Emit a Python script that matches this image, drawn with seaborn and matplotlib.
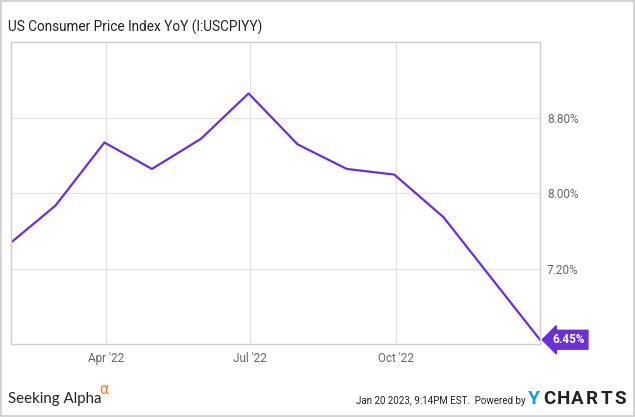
import matplotlib
matplotlib.use("Agg")
import matplotlib.pyplot as plt
from matplotlib.patches import Rectangle
import seaborn as sns
import pandas as pd

# CPI YoY, monthly values (plotted at month end like YCharts)
MONTHS = pd.date_range("2022-01-31", "2022-12-31", freq="ME")
CPI_YOY = [7.48, 7.87, 8.54, 8.26, 8.58, 9.06, 8.52, 8.26, 8.20, 7.75, 7.11, 6.45]
Y_TICKS = [7.20, 8.00, 8.80]
X_TICKS = pd.to_datetime(["2022-04-01", "2022-07-01", "2022-10-01"])
X_TICK_LABELS = ["Apr '22", "Jul '22", "Oct '22"]

LINE_COLOR = "#6B2FD6"
GRID_COLOR = "#e2e2e2"
SPINE_COLOR = "#cccccc"

sns.set_style("white")
plt.rcParams["font.family"] = ["Roboto", "DejaVu Sans"]

df = pd.DataFrame({"date": MONTHS, "value": CPI_YOY})

fig = plt.figure(figsize=(6.35, 4.17), dpi=100)
ax = fig.add_axes([11 / 635, 1 - 344 / 417, 529 / 635, 302 / 417])

sns.lineplot(data=df, x="date", y="value", color=LINE_COLOR, linewidth=1.6, ax=ax)

ax.set_xlim(MONTHS[0], MONTHS[-1])
ax.set_ylim(6.405, 9.605)
ax.set_xticks(X_TICKS)
ax.set_xticklabels(X_TICK_LABELS)
ax.set_yticks(Y_TICKS)
ax.set_yticklabels([f"{v:.2f}%" for v in Y_TICKS])
ax.yaxis.tick_right()
ax.tick_params(axis="both", length=0, labelsize=8.5, labelcolor="#666666")
ax.tick_params(axis="y", pad=5)
ax.tick_params(axis="x", pad=6)
ax.grid(True, color=GRID_COLOR, linewidth=0.9)
ax.set_xlabel("")
ax.set_ylabel("")
for sp in ax.spines.values():
    sp.set_visible(True)
    sp.set_color(SPINE_COLOR)
    sp.set_linewidth(1.0)

# end value tag
last_x, last_y = MONTHS[-1], CPI_YOY[-1]
ax.annotate(f"{last_y:.2f}%", xy=(last_x, last_y), xytext=(9, 0), textcoords="offset points",
            ha="left", va="center", color="white", fontsize=8.5, fontweight="bold",
            annotation_clip=False,
            bbox=dict(boxstyle="larrow,pad=0.25", fc=LINE_COLOR, ec=LINE_COLOR))

fig.text(8 / 635, 1 - 27 / 417, "US Consumer Price Index YoY (I:USCPIYY)",
         fontsize=9.8, color="#222222", va="center", ha="left")

# footer
fig.text(8 / 635, 1 - 399 / 417, "Seeking Alpha", fontsize=10.8, color="#222222",
         family=["Lato", "DejaVu Sans"], va="center", ha="left")
fig.text(99 / 635, 1 - 390 / 417, "\u03b1", fontsize=10.5, color="#f57c1f",
         family=["DejaVu Sans"], va="center", ha="left")
fig.text(526 / 635, 1 - 401 / 417, "Jan 20 2023, 9:14PM EST.  Powered by", fontsize=7,
         color="#222222", va="center", ha="right")
fig.text(528 / 635, 1 - 399 / 417, "Y", fontsize=14, color="#1a9be0", fontweight="bold",
         va="center", ha="left")
for i, ch in enumerate("CHARTS"):
    fig.text((549 + i * 14.3) / 635, 1 - 399 / 417, ch, fontsize=13.5, color="#222222",
             fontweight="bold", va="center", ha="center")

# light frame around the image
fig.patches.append(Rectangle((0.001, 0.002), 0.997, 0.996, transform=fig.transFigure,
                             fill=False, ec=SPINE_COLOR, lw=1.2))

fig.savefig("out.png", dpi=100)
